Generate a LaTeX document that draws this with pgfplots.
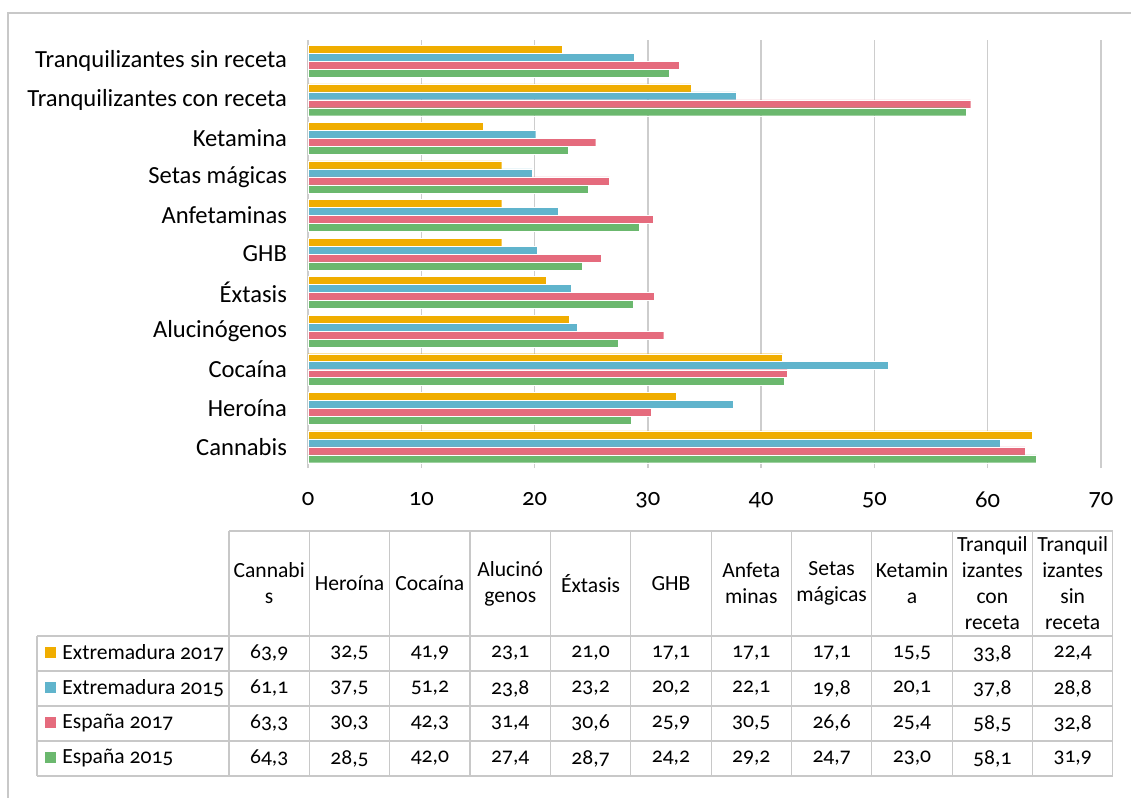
\documentclass[border=0pt]{standalone}
\usepackage{pgfplots}
\pgfplotsset{compat=1.18}
\usepackage{pgfplotstable}
\usepackage{fontspec}
\setmainfont{Carlito}[Numbers=OldStyle]

\definecolor{cOr}{RGB}{240,173,0}
\definecolor{cBl}{RGB}{96,180,204}
\definecolor{cRd}{RGB}{229,107,125}
\definecolor{cGr}{RGB}{107,184,110}
\definecolor{gridc}{RGB}{205,205,205}
\definecolor{tline}{RGB}{200,200,200}

\pgfplotstableread{
y ext17 ext15 esp17 esp15
0 63.9 61.1 63.3 64.3
1 32.5 37.5 30.3 28.5
2 41.9 51.2 42.3 42.0
3 23.1 23.8 31.4 27.4
4 21.0 23.2 30.6 28.7
5 17.1 20.2 25.9 24.2
6 17.1 22.1 30.5 29.2
7 17.1 19.8 26.6 24.7
8 15.5 20.1 25.4 23.0
9 33.8 37.8 58.5 58.1
10 22.4 28.8 32.8 31.9
}\data

\pgfkeys{/pgf/number format/.cd, assume math mode=true}

\begin{document}
\begin{tikzpicture}
\begin{scope}[x=0.5pt,y=-0.5pt]
\path[use as bounding box] (0,0) rectangle (1131,798);
\draw[tline, line width=0.7pt] (8,798) -- (8,13) -- (1131,13);
% table grid
\begin{scope}[tline, line width=0.6pt]
\draw (229,531) -- (1113,531);
\foreach \yy in {636,671,706,741,776} {\draw (37,\yy) -- (1113,\yy);}
\draw (37,636) -- (37,776);
\foreach \k in {0,...,11} {\draw ({229+80.35*\k},531) -- ({229+80.35*\k},776);}
\end{scope}
% header
\foreach \h [count=\k from 0] in {Cannabi\\s,Heroína,Cocaína,Alucinó\\genos,Éxtasis,GHB,Anfeta\\minas,Setas\\mágicas,Ketamin\\a,Tranquil\\izantes\\con\\receta,Tranquil\\izantes\\sin\\receta} {
  \node[align=center, font=\fontsize{10.8}{13}\selectfont, inner sep=0pt] at ({269.2+80.35*\k},583.5) {\h};
}
% legend column
\foreach \c/\lab [count=\i from 0] in {cOr/Extremadura 2017,cBl/Extremadura 2015,cRd/España 2017,cGr/España 2015} {
  \fill[\c] (45,{646.5+35*\i}) rectangle (56,{657.5+35*\i});
  \node[anchor=west, inner sep=0pt, font=\fontsize{10.8}{13}\selectfont] at (62,{653.5+35*\i}) {\lab};
}
% values
\foreach \s [count=\i from 0] in {ext17,ext15,esp17,esp15} {
  \foreach \r in {0,...,10} {
    \pgfplotstablegetelem{\r}{\s}\of\data
    \node[inner sep=0pt, font=\fontsize{10.8}{13}\selectfont] at ({269.2+80.35*\r},{653.5+35*\i}) {\pgfmathprintnumber[fixed,fixed zerofill,precision=1,use comma]{\pgfplotsretval}};
  }
}
\end{scope}

\begin{axis}[
  at={(154pt,-234pt)}, anchor=south west,
  scale only axis, width=396.5pt, height=214pt,
  xbar, bar width=0.207,
  xmin=0, xmax=70, ymin=-0.55, ymax=10.55,
  axis line style={draw=none},
  xmajorgrids, major grid style={gridc, line width=0.65pt},
  xtick={0,10,...,70},
  ytick={0,...,10},
  yticklabels={Cannabis,Heroína,Cocaína,Alucinógenos,Éxtasis,GHB,Anfetaminas,Setas mágicas,Ketamina,Tranquilizantes con receta,Tranquilizantes sin receta},
  major tick length=0pt,
  tick style={draw=none},
  xticklabel style={font=\fontsize{12.3}{14}\selectfont, yshift=-8.5pt},
  yticklabel style={font=\fontsize{12.3}{14}\selectfont, xshift=-7pt},
  /pgf/number format/assume math mode=true,
  clip=false,
]
\addplot[fill=cOr, draw=white, line width=0.2pt, bar shift=0.31] table[x=ext17,y=y]{\data};
\addplot[fill=cBl, draw=white, line width=0.2pt, bar shift=0.104] table[x=ext15,y=y]{\data};
\addplot[fill=cRd, draw=white, line width=0.2pt, bar shift=-0.104] table[x=esp17,y=y]{\data};
\addplot[fill=cGr, draw=white, line width=0.2pt, bar shift=-0.31] table[x=esp15,y=y]{\data};
\end{axis}
\end{tikzpicture}
\end{document}
